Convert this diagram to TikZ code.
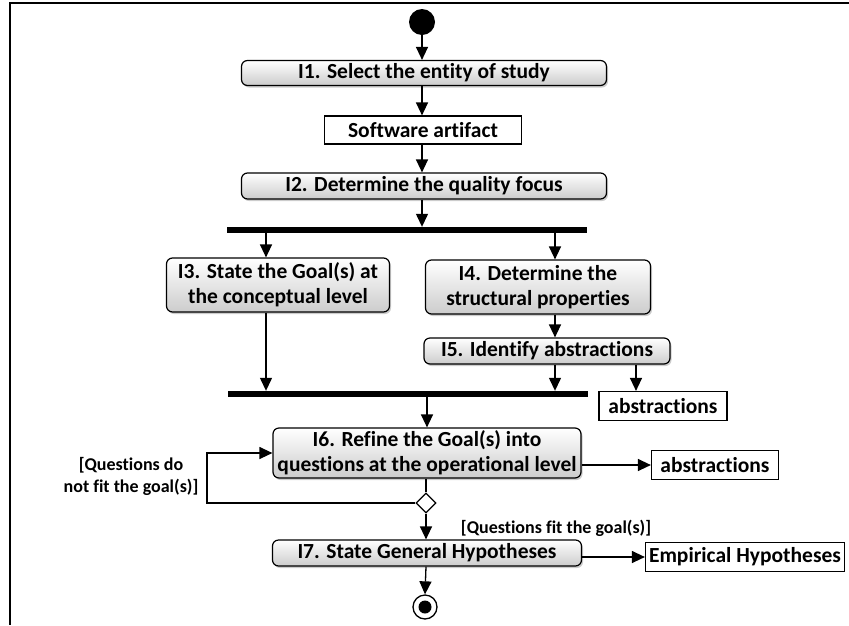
\documentclass[tikz,border=0pt]{standalone}
\usepackage{fontspec}
\setmainfont{Carlito}[Ligatures=NoCommon]
\usetikzlibrary{shapes.geometric,arrows.meta,positioning,shadows}

\begin{document}
\begin{tikzpicture}[x=1pt, y=-1pt,
    action/.style={rectangle, rounded corners=6pt, draw, line width=1.2pt, top color=white, bottom color=gray!40, drop shadow={shadow xshift=1.5pt, shadow yshift=-2pt, fill=gray!80}, align=center, inner sep=1pt, font=\fontsize{21.5}{25}\selectfont\bfseries},
    artifact/.style={rectangle, draw, line width=1.2pt, fill=white, inner sep=1pt, font=\fontsize{21.5}{25}\selectfont\bfseries},
    syncbar/.style={rectangle, fill=black, inner sep=0pt, minimum height=6pt},
    guard/.style={align=center, inner sep=0pt, font=\fontsize{18}{22}\selectfont\bfseries},
    flow/.style={-{Triangle[width=12pt, length=13pt]}, line width=1.3pt}]
    \useasboundingbox (0,0) rectangle (849,625);
    % frame
    \draw[line width=1.5pt] (849,3) -- (10,3) -- (10,625);

    \node[circle, fill=black, minimum size=26pt, inner sep=0pt] (start) at (422,22) {};
    \node[action, minimum width=365pt, minimum height=25pt] (i1) at (424,73) {I1. Select the entity of study};
    \node[artifact, minimum width=197pt, minimum height=28pt] (soft) at (423,130) {Software artifact};
    \node[action, minimum width=365pt, minimum height=26pt] (i2) at (424,186) {I2. Determine the quality focus};
    \node[syncbar, minimum width=360pt] (fork) at (407,230) {};
    \node[action, minimum width=223pt, minimum height=54pt] (i3) at (278,285) {I3. State the Goal(s) at\\the conceptual level};
    \node[action, minimum width=225pt, minimum height=54pt] (i4) at (538,287) {I4. Determine the\\structural properties};
    \node[action, minimum width=246pt, minimum height=26pt] (i5) at (547,351) {I5. Identify abstractions};
    \node[syncbar, minimum width=360pt] (join) at (408,394) {};
    \node[artifact, minimum width=128pt, minimum height=29pt] (abs1) at (663,406) {abstractions};
    \node[action, minimum width=308pt, minimum height=50pt] (i6) at (427,453) {I6. Refine the Goal(s) into\\questions at the operational level};
    \node[artifact, minimum width=127pt, minimum height=29pt] (abs2) at (715,465) {abstractions};
    \node[diamond, draw, line width=1.2pt, fill=white, minimum size=20pt, inner sep=0pt] (check) at (426,503) {};
    \node[guard] (nofit) at (131,476) {[Questions do\\not fit the goal(s)]};
    \node[guard] (fit) at (556,528) {[Questions fit the goal(s)]};
    \node[action, minimum width=309pt, minimum height=26pt] (i7) at (427,553) {I7. State General Hypotheses};
    \node[artifact, minimum width=199pt, minimum height=29pt] (emp) at (745,557) {Empirical Hypotheses};
    \node[circle, draw, line width=1.3pt, minimum size=24pt, inner sep=0pt] (stop) at (425,607) {};
    \node[circle, fill=black, minimum size=13pt, inner sep=0pt] (stopdot) at (stop) {};

    % columns of the branches
    \coordinate (lcol) at (266,0);
    \coordinate (rcol) at (555,0);
    \coordinate (ocol) at (636,0);
    \coordinate (loop) at (207,0);

    \draw[flow] (start.south) -- (start |- i1.north);
    \draw[flow] (start |- i1.south) -- (start |- soft.north);
    \draw[flow] (start |- soft.south) -- (start |- i2.north);
    \draw[flow] (start |- i2.south) -- (start |- fork.north);
    \draw[flow] (lcol |- fork.south) -- (lcol |- i3.north);
    \draw[flow] (rcol |- fork.south) -- (rcol |- i4.north);
    \draw[flow] (rcol |- i4.south) -- (rcol |- i5.north);
    \draw[flow] (lcol |- i3.south) -- (lcol |- join.north);
    \draw[flow] (rcol |- i5.south) -- (rcol |- join.north);
    \draw[flow] (ocol |- i5.south) -- (ocol |- abs1.north);
    \draw[flow] (i6 |- join.south) -- (i6.north);
    \draw[flow] (i6.east |- abs2) -- (abs2.west);
    \draw[line width=1.3pt] (check |- i6.south) -- (check.north);
    \draw[flow] (check.west) -- (loop |- check) -- (loop |- i6) -- (i6.west);
    \draw[flow] (check.south) -- (check |- i7.north);
    \draw[flow] (i7.east |- emp) -- (emp.west);
    \draw[flow] (check |- i7.south) -- (stop.north);
\end{tikzpicture}
\end{document}
